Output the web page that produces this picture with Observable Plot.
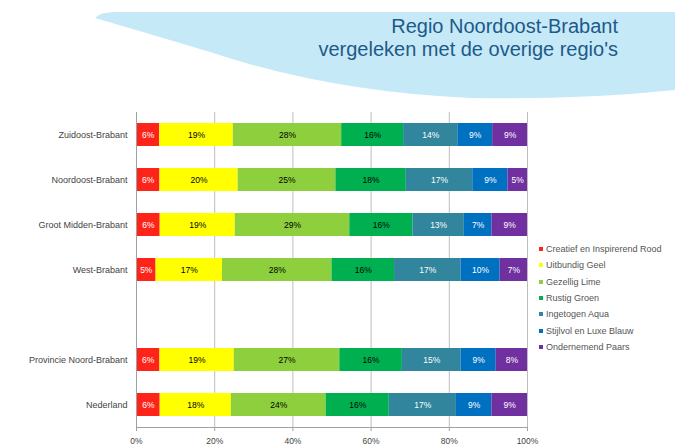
<!DOCTYPE html>
<html><head><meta charset="utf-8">
<script src="https://cdn.jsdelivr.net/npm/d3@7"></script>
<script src="https://cdn.jsdelivr.net/npm/@observablehq/plot@0.6"></script>
<style>
body{margin:0;background:#fff;font-family:"Liberation Sans",Arial,sans-serif;}
#wrap{position:relative;width:675px;height:447px;overflow:hidden;}
#banner{position:absolute;left:0;top:0;}
#title{position:absolute;right:57px;top:15px;text-align:right;color:#1d5a88;font-size:20px;line-height:23px;}
#legend{position:absolute;left:539px;top:241px;font-size:9px;color:#555;}
.item{height:16.3px;display:flex;align-items:center;white-space:nowrap}
.sw{width:4px;height:4px;margin-right:3px;flex:none}
#chart{position:absolute;left:0;top:0}
</style></head>
<body>
<div id="wrap">
<svg id="banner" width="675" height="110"><path d="M95,18 Q100,12 115,12 L675,12 L675,90 Q580,100 470,98 Q330,92 210,52 Q150,34 95,18 Z" fill="#c6e9f8"/></svg>
<div id="title">Regio Noordoost-Brabant<br>vergeleken met de overige regio's</div>
<div id="chart"></div>
<div id="legend"></div>
</div>
<script>
const regions = ["Zuidoost-Brabant","Noordoost-Brabant","Groot Midden-Brabant","West-Brabant","","Provincie Noord-Brabant","Nederland"];
const series = ["Creatief en Inspirerend Rood","Uitbundig Geel","Gezellig Lime","Rustig Groen","Ingetogen Aqua","Stijlvol en Luxe Blauw","Ondernemend Paars"];
const colors = ["#ff2419","#ffff00","#8dcf3c","#00b050","#31859c","#0070c0","#7030a0"];
const textColors = ["#fff","#000","#000","#000","#fff","#fff","#fff"];
const zuidoost = [6,19,28,16,14,9,9];
const noordoost = [6,20,25,18,17,9,5];
const grootMidden = [6,19,29,16,13,7,9];
const west = [5,17,28,16,17,10,7];
const provincie = [6,19,27,16,15,9,8];
const nederland = [6,18,24,16,17,9,9];
const xTicks = [0,0.2,0.4,0.6,0.8,1];

const rows = [[regions[0],zuidoost],[regions[1],noordoost],[regions[2],grootMidden],[regions[3],west],[regions[5],provincie],[regions[6],nederland]];
const data = [];
for (const [region, vals] of rows) vals.forEach((v,i) => data.push({region, series: series[i], si: i, value: v}));

const chart = Plot.plot({
  width: 675, height: 447,
  marginLeft: 136, marginRight: 148, marginTop: 112, marginBottom: 20,
  style: {fontFamily: '"Liberation Sans",Arial,sans-serif', background: "transparent"},
  x: {domain: [0,1], label: null},
  y: {domain: regions, paddingInner: 0.49, paddingOuter: 0.245, label: null},
  color: {type: "identity"},
  marks: [
    Plot.gridX(xTicks, {stroke: "#bdbdbd", strokeOpacity: 1}),
    Plot.barX(data, Plot.stackX({x: "value", y: "region", z: "series", fill: d => colors[d.si], offset: "normalize"})),
    Plot.text(data, Plot.stackX({x: "value", y: "region", z: "series", offset: "normalize", text: d => d.value + "%", fill: d => textColors[d.si], fontSize: 8.5})),
    Plot.ruleX([0], {stroke: "#a0a0a0"}),
    Plot.frame({anchor: "bottom", stroke: "#a0a0a0"}),
    Plot.axisX({ticks: xTicks, tickFormat: d3.format(".0%"), tickSize: 4, tickPadding: 6, fontSize: 8.5, color: "#444", stroke: "#a0a0a0", label: null}),
    Plot.axisY({tickSize: 0, tickPadding: 9, fontSize: 9, color: "#444", tickFormat: d => d, label: null})
  ]
});
document.getElementById("chart").append(chart);

const legend = document.getElementById("legend");
series.forEach((s,i) => {
  const it = document.createElement("div"); it.className = "item";
  const sw = document.createElement("span"); sw.className = "sw"; sw.style.background = colors[i];
  const t = document.createElement("span"); t.textContent = s;
  it.append(sw, t); legend.append(it);
});
</script>
</body></html>
